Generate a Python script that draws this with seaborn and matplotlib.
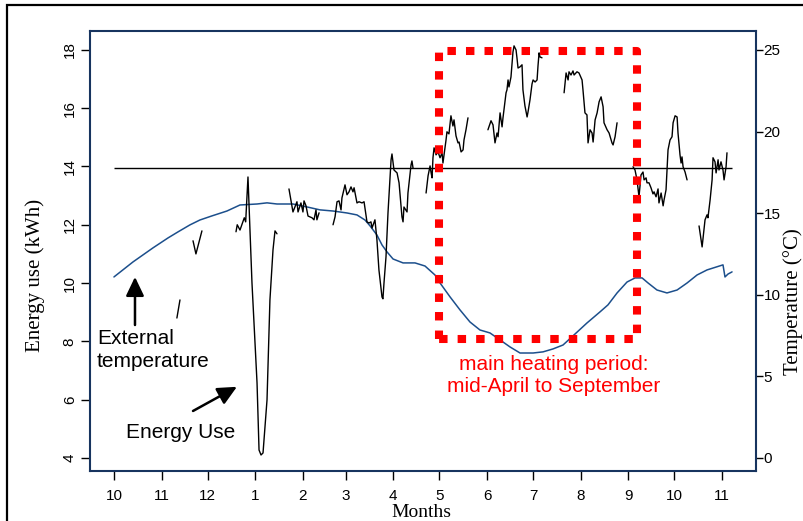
import matplotlib
matplotlib.use("Agg")
import matplotlib.pyplot as plt
import numpy as np
import pandas as pd
import seaborn as sns
from matplotlib.patches import Rectangle

# ---------------- data (days counted from 1 October) ----------------
month_tick_days = [0, 31, 61, 92, 123, 151, 182, 212, 243, 273, 304, 335, 365, 396]
month_labels = ["10", "11", "12", "1", "2", "3", "4", "5", "6", "7", "8", "9", "10", "11"]
energy_ticks = [4, 6, 8, 10, 12, 14, 16, 18]
temp_ticks = [0, 5, 10, 15, 20, 25]

# daily energy use (kWh), pieces separated by gaps in the record
seg_a_days = [41.0, 43.0]
seg_a_kwh = [8.80, 9.42]

seg_b_days = [51.5, 53.4, 57.3]
seg_b_kwh = [11.45, 11.00, 11.79]

seg_c_days = [79.5, 80.3, 82.1, 84.9, 85.8, 87.3, 88.6, 89.9, 93.2, 94.5, 95.8,
              97.1, 99.7, 101.6, 103.6, 104.9, 106.2]
seg_c_kwh = [11.76, 12.00, 11.82, 12.24, 12.10, 13.64, 11.82, 10.01, 6.57, 4.27, 4.10,
             4.17, 5.99, 9.42, 11.14, 11.79, 11.69]

seg_d_days = [114.0, 116.6, 119.2, 119.9, 121.8, 123.1, 123.8, 125.1, 126.4, 129.0,
              130.3, 131.6, 132.2, 133.6]
seg_d_kwh = [13.23, 12.44, 12.79, 12.44, 12.75, 12.44, 12.82, 12.65, 12.30, 12.24,
             12.17, 12.51, 12.17, 12.41]

seg_e_days = [142.7, 144.0, 145.3, 146.6, 147.9, 148.5, 150.5, 151.8, 153.1, 154.4,
              155.7, 156.4, 158.3, 159.6, 161.6, 162.9, 164.8, 166.1, 167.4, 168.1,
              170.0, 171.3, 172.6, 174.6, 175.2, 175.9, 177.2, 178.5, 180.5, 181.1,
              182.4, 184.4, 185.7, 187.6, 188.3, 188.9, 190.9, 191.5, 193.5, 194.1, 194.8]
seg_e_kwh = [12.00, 12.27, 12.79, 12.82, 12.51, 12.92, 13.37, 13.03, 13.13, 13.30,
             13.13, 13.27, 12.75, 12.79, 12.75, 12.79, 12.10, 12.06, 12.10, 11.89,
             12.17, 11.48, 10.45, 9.52, 9.46, 10.01, 10.90, 12.41, 14.23, 14.43,
             13.88, 13.78, 13.44, 12.27, 12.10, 12.61, 12.44, 13.09, 14.05, 14.19, 13.95]

seg_f_days = [203.3, 204.6, 205.9, 206.5, 207.2, 207.8, 208.5, 209.8, 211.1, 212.4,
              213.7, 214.3, 216.3, 216.9, 218.2, 219.5, 220.8, 221.5, 222.8, 224.1,
              224.8, 226.1, 227.4, 228.0, 229.3, 230.6]
seg_f_kwh = [13.09, 13.68, 14.02, 13.81, 13.61, 14.30, 14.64, 14.40, 14.50, 14.30,
             14.47, 14.12, 14.91, 15.19, 15.12, 15.74, 15.39, 15.60, 15.05, 14.81,
             14.84, 14.50, 14.57, 14.91, 15.26, 15.67]

seg_g_days = [243.6, 245.6, 246.9, 248.2, 249.5, 250.2, 251.5, 252.8, 253.4, 255.4,
              256.0, 256.7, 257.3, 258.6, 259.9, 260.6, 261.9, 262.5, 263.2, 264.5,
              265.8, 266.4, 267.7, 269.1, 269.7, 271.0, 272.3, 273.0, 274.3, 275.6,
              276.2, 276.9, 277.5, 278.8]
seg_g_kwh = [15.26, 15.57, 15.43, 14.81, 15.15, 15.02, 15.84, 15.36, 15.67, 16.53,
             16.63, 16.97, 16.73, 17.07, 17.93, 18.14, 18.00, 17.73, 17.38, 17.42,
             17.49, 16.63, 16.08, 15.70, 15.87, 16.29, 16.83, 16.97, 16.90, 16.97,
             17.45, 17.90, 17.76, 17.73]

seg_h_days = [293.2, 294.5, 295.8, 296.4, 297.7, 299.0, 299.7, 301.6, 302.9, 304.9,
              305.5, 306.8, 308.1, 308.8, 310.1, 311.4, 312.1, 313.4, 314.7, 316.0,
              317.3, 318.6, 319.2, 321.2, 322.5, 324.4, 325.1, 326.4, 327.7]
seg_h_kwh = [16.53, 17.21, 16.97, 17.25, 17.14, 17.28, 17.14, 17.25, 17.21, 16.97,
             16.63, 15.84, 15.77, 14.81, 15.26, 15.15, 14.84, 15.60, 15.84, 16.22,
             16.39, 16.05, 15.50, 15.26, 15.15, 14.81, 14.74, 15.02, 15.50]

seg_i_days = [338.1, 339.4, 340.7, 342.0, 343.3, 344.6, 345.3, 346.6, 347.2, 348.5,
              349.8, 351.1, 351.8, 353.1, 354.4, 355.0, 356.4, 357.7, 358.3, 359.6,
              360.9, 362.2, 363.5, 364.2, 365.5, 366.8, 367.4, 368.7, 369.4, 370.0,
              370.7, 372.0, 373.3]
seg_i_kwh = [13.99, 13.88, 13.54, 12.96, 13.71, 13.81, 13.54, 13.61, 13.44, 13.44,
             13.27, 13.06, 13.13, 12.96, 13.23, 12.75, 13.09, 12.65, 12.85, 13.20,
             14.57, 14.91, 15.02, 15.50, 15.74, 15.70, 15.15, 14.40, 14.12, 14.33,
             13.99, 13.81, 13.54]

seg_j_days = [381.1, 383.1, 385.0, 386.3, 386.9, 388.3, 389.6, 390.2, 391.5, 392.2,
              393.5, 394.1, 395.4, 396.7, 397.4, 398.7, 399.3]
seg_j_kwh = [11.96, 11.24, 12.17, 12.34, 12.24, 12.85, 13.54, 14.30, 14.16, 13.78,
             14.23, 13.88, 14.16, 13.88, 13.54, 13.99, 14.47]

# external temperature (deg C)
temp_days = [0, 12.4, 25.4, 35.2, 41.7, 49.5, 56.0, 63.8, 73.6, 82.1, 93.2, 99.7,
             106.2, 116.6, 125.7, 134.2, 142.7, 151.8, 158.3, 163.5, 166.8, 171.3,
             174.6, 177.9, 181.8, 188.3, 196.1, 202.6, 209.1, 212.4, 218.9, 225.4,
             231.9, 238.4, 244.9, 251.5, 258.0, 264.5, 273.0, 279.5, 286.0, 292.5,
             299.0, 308.1, 316.6, 321.8, 327.7, 334.2, 339.4, 344.0, 347.9, 353.7,
             360.2, 366.8, 373.3, 379.8, 386.3, 396.7, 398.0, 400.0, 402.6]
temp_c = [11.09, 12.01, 12.87, 13.48, 13.85, 14.28, 14.58, 14.83, 15.13, 15.50, 15.56,
          15.63, 15.56, 15.56, 15.38, 15.20, 15.13, 15.01, 14.89, 14.58, 14.22, 13.66,
          13.05, 12.62, 12.19, 11.95, 11.95, 11.76, 11.21, 10.72, 9.87, 9.07,
          8.33, 7.84, 7.66, 7.23, 6.80, 6.43, 6.43, 6.50, 6.68, 6.92,
          7.48, 8.27, 8.95, 9.38, 10.11, 10.78, 11.03, 11.03, 10.72, 10.29,
          10.11, 10.29, 10.72, 11.21, 11.52, 11.83, 11.09, 11.27, 11.40]

# reference line and heating-period box
threshold_kwh = 13.95
threshold_start_day = 0.0
threshold_end_day = 402.6
heat_start_day = 211.7
heat_end_day = 341.0
box_low_kwh = 8.08
box_high_kwh = 17.98

# ---------------- tables ----------------
segments = [(seg_a_days, seg_a_kwh), (seg_b_days, seg_b_kwh), (seg_c_days, seg_c_kwh),
            (seg_d_days, seg_d_kwh), (seg_e_days, seg_e_kwh), (seg_f_days, seg_f_kwh),
            (seg_g_days, seg_g_kwh), (seg_h_days, seg_h_kwh), (seg_i_days, seg_i_kwh),
            (seg_j_days, seg_j_kwh)]
energy_df = pd.concat(
    [pd.DataFrame({"day": d, "kwh": k, "seg": i}) for i, (d, k) in enumerate(segments)],
    ignore_index=True)
temp_df = pd.DataFrame({"day": temp_days, "temp": temp_c})

# ---------------- style ----------------
sns.set_style("ticks")
plt.rcParams["font.family"] = ["Liberation Sans", "DejaVu Sans"]
plt.rcParams["text.color"] = "black"
plt.rcParams["xtick.color"] = "black"
plt.rcParams["ytick.color"] = "black"
plt.rcParams["xtick.labelcolor"] = "black"
plt.rcParams["ytick.labelcolor"] = "black"
NAVY = "#17345f"
BLUE = "#1c4f8c"
RED = "#ff0000"
SERIF = ["Liberation Serif", "DejaVu Serif"]

fig = plt.figure(figsize=(8.04, 5.21), dpi=100)
ax = fig.add_axes([90 / 804, 50 / 521, 666 / 804, 440 / 521])
ax2 = ax.twinx()

sns.lineplot(data=temp_df, x="day", y="temp", ax=ax2, color=BLUE, linewidth=1.1)
sns.lineplot(data=energy_df, x="day", y="kwh", units="seg", estimator=None, ax=ax,
             color="black", linewidth=1.0)
ax.hlines(threshold_kwh, threshold_start_day, threshold_end_day, color="black", linewidth=1.0)

box_x = [heat_start_day, heat_start_day, heat_end_day, heat_end_day, heat_start_day]
box_y = [box_low_kwh, box_high_kwh, box_high_kwh, box_low_kwh, box_low_kwh]
ax.plot(box_x, box_y, color=RED, linewidth=5.8, linestyle=(0, (1.05, 1.25)),
        dash_capstyle="butt", zorder=6)

ax.set_zorder(ax2.get_zorder() + 1)
ax.patch.set_visible(False)

ax.set_xlim(-15.6, 418.2)
ax.set_ylim(3.55, 18.65)
ax2.set_ylim(-0.80, 26.16)

ax.set_xticks(month_tick_days, month_labels)
ax.set_yticks(energy_ticks)
ax2.set_yticks(temp_ticks)
ax.set_xlabel("")
ax.set_ylabel("")
ax2.set_ylabel("")

ax.tick_params(axis="x", length=6.5, width=1.0, pad=6.8, labelsize=11, color="black",
               labelcolor="black")
ax.tick_params(axis="y", length=6.5, width=1.0, pad=3, labelsize=11, color="black",
               labelcolor="black")
ax2.tick_params(axis="y", length=5, width=1.0, pad=0.5, labelsize=11, color="black",
                labelcolor="black")
for lab in ax.get_yticklabels():
    lab.set_rotation(90)
    lab.set_va("center")

for s in ax.spines.values():
    s.set_color(NAVY)
    s.set_linewidth(1.5)
for s in ax2.spines.values():
    s.set_visible(False)
ax.grid(False)
ax2.grid(False)

# annotations
ax.text(-11.1, 7.91, "External", fontsize=15, ha="left", va="baseline", color="black")
ax.text(-11.1, 7.12, "temperature", fontsize=15, ha="left", va="baseline", color="black")
ax.text(7.8, 4.69, "Energy Use", fontsize=15, ha="left", va="baseline", color="black")
ax.text(286.6, 7.02, "main heating period:", fontsize=15, ha="center", va="baseline", color=RED)
ax.text(286.6, 6.26, "mid-April to September", fontsize=15, ha="center", va="baseline", color=RED)

arrow_style = dict(arrowstyle="-|>,head_length=1.15,head_width=0.55", mutation_scale=10,
                   lw=1.8, color="black", shrinkA=0, shrinkB=0)
ax.annotate("", xy=(13.7, 10.21), xytext=(13.7, 8.56), arrowprops=arrow_style)
ax.annotate("", xy=(80.1, 6.44), xytext=(51.5, 5.61), arrowprops=arrow_style)

# axis titles
fig.text(35 / 804, 1 - 275 / 521, "Energy use (kWh)", rotation=90, ha="center", va="center",
         fontsize=15, family=SERIF, color="black")
fig.text(793.5 / 804, 1 - 302 / 521, "Temperature (\u00b0C)", rotation=90, ha="center",
         va="center", fontsize=15, family=SERIF, color="black")
fig.text(421 / 804, 4.3 / 521, "Months", ha="center", va="baseline", fontsize=14, family=SERIF,
         color="black")

# outer frame
fig.patches.append(Rectangle((7 / 804, -0.05), 1.2, 1.05 - 5.5 / 521, transform=fig.transFigure,
                             fill=False, edgecolor="black", linewidth=1.6, clip_on=False))

fig.savefig("out.png", dpi=100)
